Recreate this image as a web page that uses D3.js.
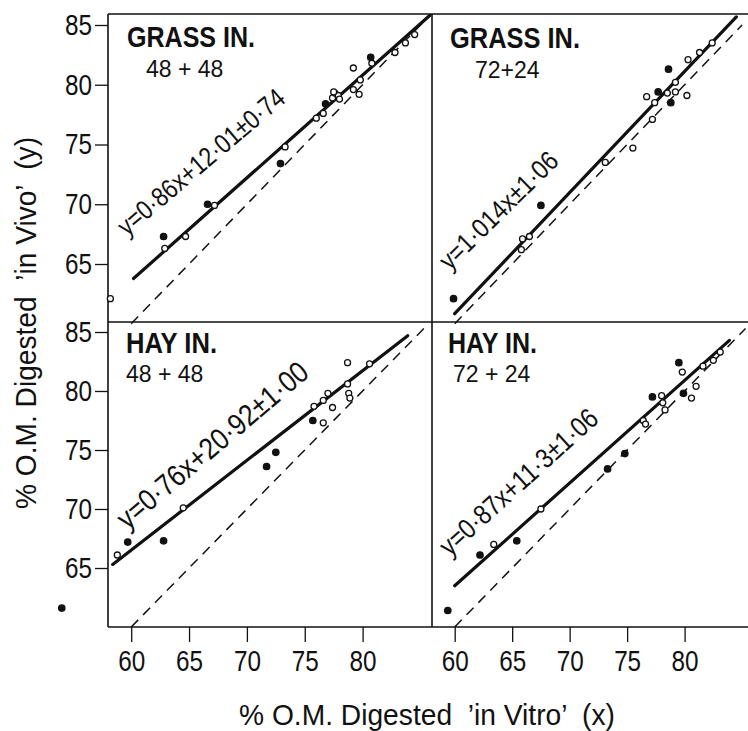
<!DOCTYPE html>
<html>
<head>
<meta charset="utf-8">
<script src="https://cdn.jsdelivr.net/npm/d3@7"></script>
<style>
  body { margin: 0; background: #fff; }
  svg text { font-family: "Liberation Sans", Arial, sans-serif; fill: #111; }
</style>
</head>
<body>
<svg id="chart" width="748" height="731"></svg>
<script>

// ********************** //
//          Data          //
// ********************** //

// each point: [in vitro x, in vivo y, 1 = filled dot / 0 = open circle]
var grass4848 = [
    [58.2, 62.1, 0], [62.8, 67.3, 1], [62.9, 66.3, 0], [64.7, 67.3, 0],
    [66.6, 70.0, 1], [67.2, 69.9, 0], [72.9, 73.4, 1], [73.3, 74.8, 0],
    [76.0, 77.2, 0], [76.6, 77.6, 0], [76.8, 78.4, 1], [77.4, 78.9, 0],
    [77.6, 79.3, 0], [77.9, 79.1, 0], [78.0, 78.8, 0], [77.5, 79.4, 0],
    [79.2, 81.4, 0], [79.2, 79.6, 0], [79.7, 79.2, 0], [79.8, 80.4, 0],
    [80.7, 82.3, 1], [80.8, 81.8, 0], [82.8, 82.7, 0], [83.7, 83.5, 0],
    [84.5, 84.2, 0]
];
var grass7224 = [
    [59.9, 62.1, 1], [65.8, 66.2, 0], [65.9, 67.1, 0], [66.5, 67.3, 0],
    [67.5, 69.9, 1], [73.1, 73.5, 0], [75.5, 74.7, 0], [77.2, 77.1, 0],
    [77.4, 78.5, 0], [76.7, 79.0, 0], [77.7, 79.4, 1], [78.5, 79.3, 0],
    [78.6, 81.3, 1], [78.8, 78.5, 1], [79.2, 79.4, 0], [79.2, 80.2, 0],
    [80.2, 79.1, 0], [80.3, 82.1, 0], [81.3, 82.7, 0], [82.4, 83.5, 0]
];
var hay4848 = [
    [54.0, 61.6, 1], [58.8, 66.1, 0], [59.7, 67.2, 1], [62.8, 67.3, 1],
    [64.5, 70.1, 0], [71.7, 73.6, 1], [72.5, 74.8, 1], [75.7, 77.5, 1],
    [76.6, 77.3, 0], [75.8, 78.7, 0], [76.6, 79.2, 0], [77.0, 79.8, 0],
    [77.4, 78.6, 0], [78.7, 80.6, 0], [78.8, 79.8, 0], [78.9, 79.4, 0],
    [78.7, 82.4, 0], [80.6, 82.3, 0]
];
var hay7224 = [
    [59.4, 61.4, 1], [62.2, 66.1, 1], [63.4, 67.0, 0], [65.4, 67.3, 1],
    [67.5, 70.0, 0], [73.3, 73.4, 1], [74.8, 74.7, 1], [76.4, 77.5, 0],
    [76.6, 77.2, 0], [77.2, 79.5, 1], [78.0, 79.6, 0], [78.1, 79.0, 0],
    [78.3, 78.4, 0], [79.5, 82.4, 1], [79.8, 81.6, 0], [79.9, 79.8, 1],
    [80.6, 79.4, 0], [81.0, 80.4, 0], [81.6, 82.1, 0], [82.5, 82.6, 0],
    [83.1, 83.3, 0]
];

// regression lines: [slope, intercept, x from, x to]
var grass4848Fit = [0.86, 12.01, 60.2, 85.8];
var grass7224Fit = [1.014, 0, 60.0, 84.5];
var hay4848Fit = [0.76, 20.92, 58.4, 83.9];
var hay7224Fit = [0.87, 11.3, 60.0, 83.9];

// the 1:1 dashed lines: [x from, x to]
var grass4848Diag = [60, 85.8];
var grass7224Diag = [60, 85.0];
var hay4848Diag = [60, 85.6];
var hay7224Diag = [60, 85.3];

var xTicks = [60, 65, 70, 75, 80];
var yTicks = [65, 70, 75, 80, 85];

var panelTitles = ['GRASS IN.', 'GRASS IN.', 'HAY IN.', 'HAY IN.'];
var panelSubs = ['48 + 48', '72+24', '48 + 48', '72 + 24'];
var equations = ['y=0·86x+12·01±0·74', 'y=1·014x±1·06', 'y=0·76x+20·92±1·00', 'y=0·87x+11·3±1·06'];

var xTitle = '% O.M. Digested  ’in Vitro’  (x)';
var yTitle = '% O.M. Digested  ’in Vivo’  (y)';


// ********************** //
//         Scales         //
// ********************** //

var svg = d3.select('#chart');

var xLeft = d3.scaleLinear().domain([60, 80]).range([131.2, 362.6]);
var xRight = d3.scaleLinear().domain([60, 80]).range([454.7, 684.6]);
var yTop = d3.scaleLinear().domain([65, 85]).range([264, 25]);
var yBottom = d3.scaleLinear().domain([65, 85]).range([568, 332]);

// layout of each panel: title/sub baselines (px), equation centre (data) + angle + length
var panels = [
    {pts: grass4848, fit: grass4848Fit, diag: grass4848Diag, x: xLeft, y: yTop,
     title: [127, 47, 128], sub: [146, 77], eq: [66.55, 72.95], angle: -40.3, eqLen: 210, eqSize: 27},
    {pts: grass7224, fit: grass7224Fit, diag: grass7224Diag, x: xRight, y: yTop,
     title: [450, 48, 130], sub: [475, 78], eq: [64.37, 68.93], angle: -44.5, eqLen: 155, eqSize: 27},
    {pts: hay4848, fit: hay4848Fit, diag: hay4848Diag, x: xLeft, y: yBottom,
     title: [126, 353, 91], sub: [126, 382], eq: [67.59, 74.75], angle: -40.2, eqLen: 240, eqSize: 30},
    {pts: hay7224, fit: hay7224Fit, diag: hay7224Diag, x: xRight, y: yBottom,
     title: [448, 353, 89], sub: [453, 382], eq: [66.11, 71.69], angle: -42.2, eqLen: 203, eqSize: 28}
];


// ********************** //
//      Frame & Axes      //
// ********************** //

var frame = [
    [[108, 14], [748, 14]],
    [[108, 322], [748, 322]],
    [[108, 627], [748, 627]],
    [[108, 14], [108, 627]],
    [[432, 14], [432, 627]]
];
svg.append('g').selectAll('line')
    .data(frame).enter().append('line')
    .attr('x1', d => d[0][0]).attr('y1', d => d[0][1])
    .attr('x2', d => d[1][0]).attr('y2', d => d[1][1])
    .attr('stroke', '#111').attr('stroke-width', 1.6);

function styleAxis(g) {
    g.select('.domain').remove();
    g.selectAll('.tick line').attr('stroke', '#111').attr('stroke-width', 1.3);
    g.selectAll('.tick text')
        .attr('fill', '#111')
        .style('font-family', '"Liberation Sans", Arial, sans-serif')
        .style('font-size', '29px')
        .attr('textLength', 27).attr('lengthAdjust', 'spacingAndGlyphs');
}

[yTop, yBottom].forEach(function(sc) {
    svg.append('g')
        .attr('transform', 'translate(108,0)')
        .call(d3.axisLeft(sc).tickValues(yTicks).tickSize(13).tickPadding(3))
        .call(styleAxis);
});

[xLeft, xRight].forEach(function(sc) {
    svg.append('g')
        .attr('transform', 'translate(0,627)')
        .call(d3.axisBottom(sc).tickValues(xTicks).tickSize(15).tickPadding(8))
        .call(styleAxis);
});

svg.append('text')
    .attr('x', 427).attr('y', 725)
    .attr('text-anchor', 'middle')
    .attr('textLength', 376).attr('lengthAdjust', 'spacingAndGlyphs')
    .style('font-size', '29px')
    .style('white-space', 'pre')
    .text(xTitle);

svg.append('text')
    .attr('transform', 'translate(36,323) rotate(-90)')
    .attr('text-anchor', 'middle')
    .attr('textLength', 372).attr('lengthAdjust', 'spacingAndGlyphs')
    .style('font-size', '29px')
    .style('white-space', 'pre')
    .text(yTitle);


// ********************** //
//         Panels         //
// ********************** //

panels.forEach(function(p, i) {
    var g = svg.append('g');
    var line = d3.line().x(d => p.x(d[0])).y(d => p.y(d[1]));

    // 1:1 line
    g.append('path')
        .attr('d', line([[p.diag[0], p.diag[0]], [p.diag[1], p.diag[1]]]))
        .attr('fill', 'none').attr('stroke', '#111')
        .attr('stroke-width', 1.5).attr('stroke-dasharray', '10,7');

    // regression line
    var m = p.fit[0], b = p.fit[1];
    g.append('path')
        .attr('d', line([[p.fit[2], m * p.fit[2] + b], [p.fit[3], m * p.fit[3] + b]]))
        .attr('fill', 'none').attr('stroke', '#111')
        .attr('stroke-width', 3.2).attr('stroke-linecap', 'round');

    g.selectAll('circle')
        .data(p.pts).enter().append('circle')
        .attr('cx', d => p.x(d[0]))
        .attr('cy', d => p.y(d[1]))
        .attr('r', d => d[2] ? 3.2 : 3)
        .attr('fill', d => d[2] ? '#111' : '#fff')
        .attr('stroke', '#111').attr('stroke-width', 1.3);

    g.append('text')
        .attr('x', p.title[0]).attr('y', p.title[1])
        .attr('textLength', p.title[2]).attr('lengthAdjust', 'spacingAndGlyphs')
        .style('font-size', '30px').style('font-weight', 'bold')
        .text(panelTitles[i]);

    g.append('text')
        .attr('x', p.sub[0]).attr('y', p.sub[1])
        .style('font-size', '23px')
        .text(panelSubs[i]);

    g.append('text')
        .attr('transform', 'translate(' + p.x(p.eq[0]) + ',' + p.y(p.eq[1]) + ') rotate(' + p.angle + ')')
        .attr('text-anchor', 'middle')
        .attr('textLength', p.eqLen).attr('lengthAdjust', 'spacingAndGlyphs')
        .style('font-size', p.eqSize + 'px')
        .text(equations[i]);
});

</script>
</body>
</html>
